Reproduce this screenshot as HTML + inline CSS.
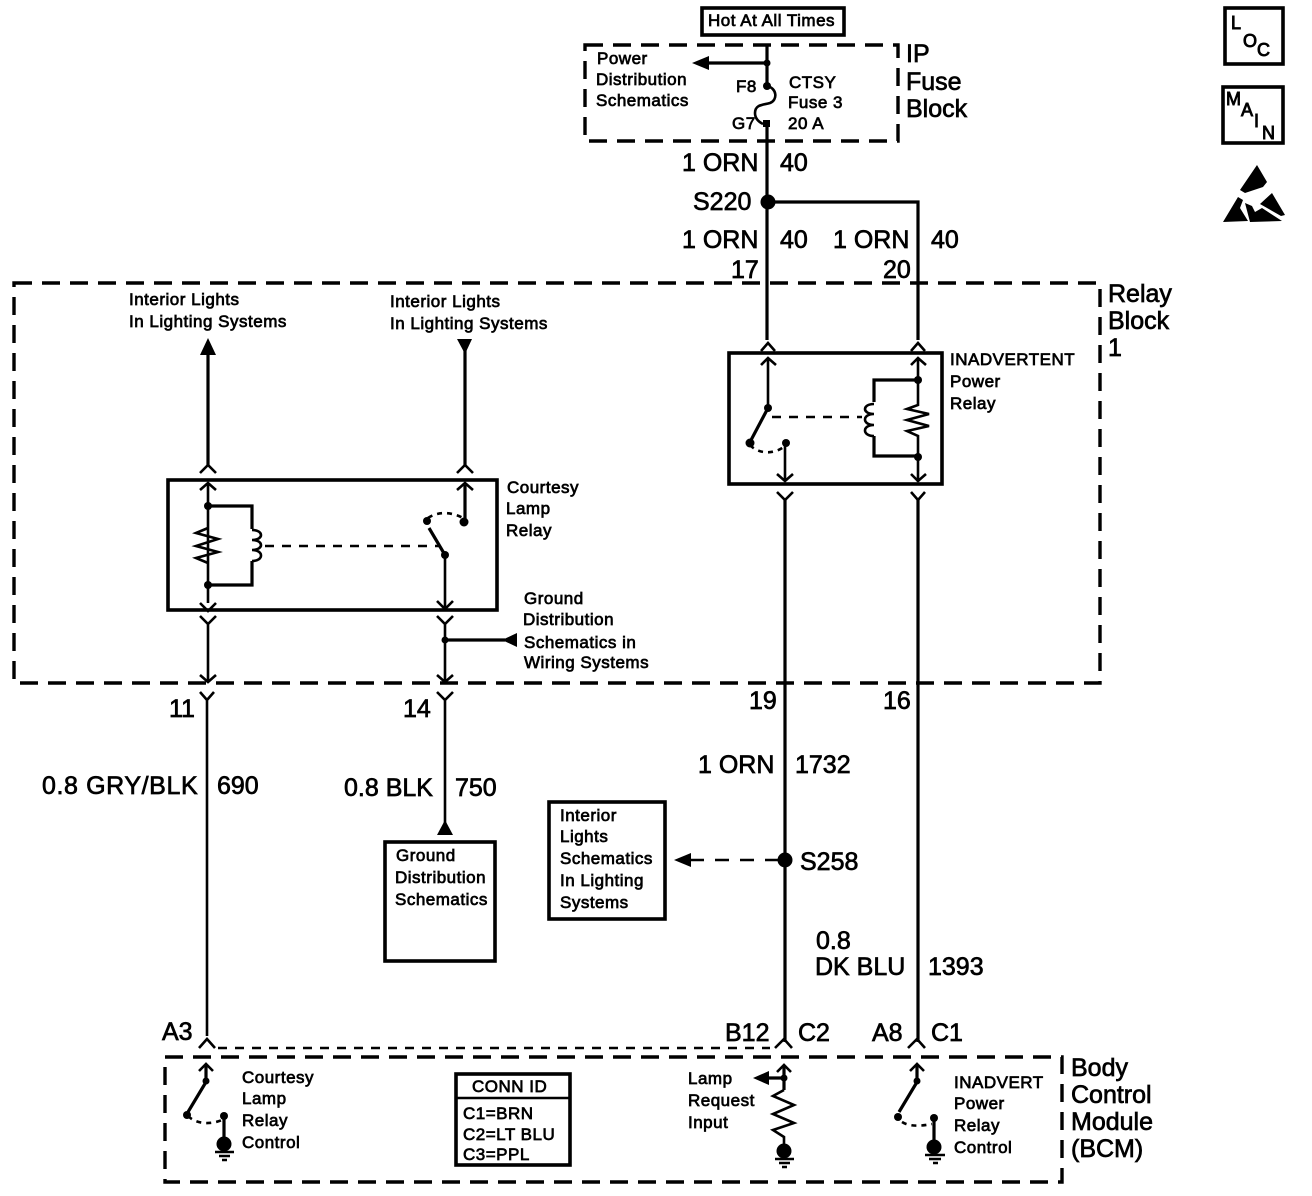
<!DOCTYPE html>
<html><head><meta charset="utf-8"><style>
html,body{margin:0;padding:0;background:#fff}
svg{display:block}
text{font-family:"Liberation Sans",sans-serif;fill:#000;stroke:#000;stroke-width:.7}
.s{font-size:17px;letter-spacing:.5px}
.m{font-size:25px}
.i{font-size:18px;letter-spacing:0;stroke-width:.9}
.w{fill:none;stroke:#000;stroke-width:2.6}
.t{fill:none;stroke:#000;stroke-width:3.2}
.b{fill:none;stroke:#000;stroke-width:3.6}
.d{fill:none;stroke:#000;stroke-width:3.4;stroke-dasharray:18 10}
.f{fill:#000;stroke:none}
</style></head><body>
<svg width="1312" height="1196" viewBox="0 0 1312 1196" xmlns="http://www.w3.org/2000/svg">
<rect class="b" x="702" y="8" width="142" height="27"/>
<text class="s" x="708" y="26">Hot At All Times</text>
<rect class="d" x="585" y="45" width="313" height="96"/>
<text class="s" x="597" y="64">Power</text>
<text class="s" x="596" y="85">Distribution</text>
<text class="s" x="596" y="106">Schematics</text>
<text class="s" x="736" y="92">F8</text>
<text class="s" x="732" y="129">G7</text>
<text class="s" x="789" y="88">CTSY</text>
<text class="s" x="788" y="108">Fuse 3</text>
<text class="s" x="788" y="129">20 A</text>
<text class="m" x="906" y="62">IP</text>
<text class="m" x="906" y="90">Fuse</text>
<text class="m" x="906" y="117">Block</text>
<path class="t" d="M767 46V86M767 63H705M767 124V340M767 202H918V340"/>
<path class="f" d="M692 63l17-7v14z"/>
<path class="w" d="M767 86c10 2 11 14 3 17c-6 2-15 1-15 10c0 6 4 9 8 11"/>
<circle class="f" cx="767" cy="63" r="3.5"/><circle class="f" cx="767" cy="86" r="4"/><rect class="f" x="763" y="120" width="7" height="7"/>
<circle class="f" cx="768" cy="202" r="7.5"/>
<text class="m" x="682" y="171">1 ORN</text><text class="m" x="780" y="171">40</text>
<text class="m" x="693" y="210">S220</text>
<text class="m" x="682" y="248">1 ORN</text><text class="m" x="780" y="248">40</text>
<text class="m" x="833" y="248">1 ORN</text><text class="m" x="931" y="248">40</text>
<text class="m" x="731" y="278">17</text><text class="m" x="883" y="278">20</text>

<rect class="d" x="14" y="283" width="1086" height="400"/>
<text class="m" x="1108" y="302">Relay</text><text class="m" x="1108" y="329">Block</text><text class="m" x="1108" y="356">1</text>
<text class="s" x="129" y="305">Interior Lights</text><text class="s" x="129" y="327">In Lighting Systems</text>
<text class="s" x="390" y="307">Interior Lights</text><text class="s" x="390" y="329">In Lighting Systems</text>
<path class="f" d="M208 338l8 17h-16zM465 354l-8-15h15z"/>
<path class="t" d="M208 350V466M465 345V466"/>
<path class="w" d="M200 473l8-8 8 8M457 473l8-8 8 8M761 351l7-8 7 8M911 351l7-8 7 8"/>

<!-- Courtesy relay -->
<rect class="b" x="168" y="480" width="329" height="130"/>
<path class="w" d="M200 490l8-7 8 7M457 490l8-7 8 7M208 484V603M200 603l8 8 8-8M445 555V608M437 601l8 8 8-8"/>
<path class="t" d="M465 485V521M208 506H252V529M208 585H252V561"/>
<path class="w" d="M208 528l-12 5 22 6-22 7 22 6-22 6 12 5"/>
<path class="w" d="M252 530c12 0 12 10 0 10c12 0 12 10 0 10c12 0 12 11 0 11"/>
<path class="w" stroke-dasharray="9 8" d="M265 546H440"/>
<path class="t" d="M445 555L429 528"/>
<path class="w" stroke-dasharray="5 5" d="M428 518C438 511 452 512 463 518"/>
<circle class="f" cx="208" cy="506" r="4"/><circle class="f" cx="208" cy="585" r="4"/>
<circle class="f" cx="427" cy="521" r="4"/><circle class="f" cx="464" cy="522" r="4.5"/><circle class="f" cx="445" cy="555" r="4"/>
<text class="s" x="507" y="493">Courtesy</text><text class="s" x="506" y="514">Lamp</text><text class="s" x="506" y="536">Relay</text>
<text class="s" x="524" y="604">Ground</text><text class="s" x="523" y="625">Distribution</text><text class="s" x="524" y="648">Schematics in</text><text class="s" x="524" y="668">Wiring Systems</text>
<path class="w" d="M200 616l8 8 8-8M437 616l8 8 8-8M208 624V682M445 624V682M200 675l8 7 8-7M437 675l8 7 8-7"/>
<path class="t" d="M445 640H505"/><path class="f" d="M502 640l15-7v14z"/><circle class="f" cx="445" cy="640" r="3.5"/>
<path class="w" d="M200 692l7 8 7-8M437 692l8 8 8-8M207 700V1036M445 700V828"/>
<path class="f" d="M445 820l8 15h-16z"/>

<!-- Inadvertent relay -->
<rect class="b" x="729" y="353" width="213" height="131"/>
<path class="w" d="M761 365l7-7 8 7M911 365l7-7 8 7M768 360V406M785 442V480M777 474l8 7 8-7M918 360V380M918 456V482M911 474l7 7 8-7"/>
<path class="t" d="M768 408L750 442M918 380H874V402M918 456H874V436"/>
<path class="w" d="M918 380V405l-11 4 22 5-22 6 22 6-22 5 11 5V456"/>
<path class="w" d="M874 404c-12 0-12 10 0 10c-12 0-12 11 0 11c-12 0-12 11 0 11"/>
<path class="w" stroke-dasharray="9 8" d="M772 417H862"/>
<path class="w" stroke-dasharray="5 5" d="M750 445C758 454 774 455 785 446"/>
<circle class="f" cx="768" cy="408" r="4"/><circle class="f" cx="750" cy="443" r="4.5"/><circle class="f" cx="786" cy="443" r="4"/><circle class="f" cx="918" cy="380" r="4"/><circle class="f" cx="918" cy="457" r="4"/>
<text class="s" x="950" y="365">INADVERTENT</text><text class="s" x="950" y="387">Power</text><text class="s" x="950" y="409">Relay</text>
<path class="w" d="M777 492l8 8 8-8M911 492l7 8 7-8"/>
<path class="t" d="M785 498V1042M918 498V1042"/>

<text class="m" x="169" y="717">11</text><text class="m" x="403" y="717">14</text><text class="m" x="749" y="709">19</text><text class="m" x="883" y="709">16</text>
<text class="m" x="42" y="794" letter-spacing=".6">0.8 GRY/BLK</text><text class="m" x="217" y="794">690</text>
<text class="m" x="344" y="796">0.8 BLK</text><text class="m" x="455" y="796">750</text>
<text class="m" x="698" y="773">1 ORN</text><text class="m" x="795" y="773">1732</text>
<rect class="b" x="385" y="842" width="110" height="119"/>
<text class="s" x="396" y="861">Ground</text><text class="s" x="395" y="883">Distribution</text><text class="s" x="395" y="905">Schematics</text>
<rect class="b" x="549" y="802" width="116" height="117"/>
<text class="s" x="560" y="821">Interior</text><text class="s" x="560" y="842">Lights</text><text class="s" x="560" y="864">Schematics</text><text class="s" x="560" y="886">In Lighting</text><text class="s" x="560" y="908">Systems</text>
<path class="w" stroke-dasharray="14 11" d="M690 860H780"/><path class="f" d="M674 860l17-7v14z"/>
<circle class="f" cx="785" cy="860" r="7.5"/>
<text class="m" x="800" y="870">S258</text>
<text class="m" x="816" y="949">0.8</text><text class="m" x="815" y="975">DK BLU</text><text class="m" x="928" y="975">1393</text>
<text class="m" x="162" y="1040">A3</text><text class="m" x="725" y="1041">B12</text><text class="m" x="798" y="1041">C2</text><text class="m" x="872" y="1041">A8</text><text class="m" x="931" y="1041">C1</text>

<!-- BCM -->
<path class="w" stroke-dasharray="9 8" d="M218 1048H770"/>
<rect class="d" x="165" y="1057" width="897" height="125"/>
<path class="w" d="M199 1048l8-9 8 9M775 1048l9-9 8 9M908 1048l9-9 8 9"/>
<text class="m" x="1071" y="1076">Body</text><text class="m" x="1071" y="1103">Control</text><text class="m" x="1071" y="1130">Module</text><text class="m" x="1071" y="1157">(BCM)</text>

<path class="w" d="M199 1071l7-7 7 7M777 1072l7-7 7 7M910 1071l7-7 7 7"/>
<path class="t" d="M206 1065V1082L188 1112M224 1116V1140M784 1066V1090M917 1065V1082L899 1112M934 1118V1140"/>
<path class="w" stroke-dasharray="5 5" d="M188 1116C196 1124 210 1125 222 1120M902 1122C910 1127 922 1126 932 1124"/>
<circle class="f" cx="206" cy="1081" r="3.5"/><circle class="f" cx="187" cy="1115" r="4"/><circle class="f" cx="224" cy="1116" r="4"/>
<circle class="f" cx="224" cy="1144" r="7.5"/><path class="w" d="M215 1152H234M219 1156H230M222 1160H227"/>
<circle class="f" cx="917" cy="1081" r="3.5"/><circle class="f" cx="898" cy="1117" r="4"/><circle class="f" cx="934" cy="1118" r="4"/>
<circle class="f" cx="934" cy="1147" r="7.5"/><path class="w" d="M925 1155H945M929 1159H941M933 1163H938"/>
<path class="f" d="M753 1078l16-7v14z"/><path class="t" d="M765 1078H784"/><circle class="f" cx="784" cy="1078" r="3.5"/>
<path class="w" d="M784 1090l-11 6 21 9-21 9 21 9-21 7 11 7V1145"/>
<circle class="f" cx="784" cy="1151" r="7.5"/><path class="w" d="M775 1159H794M779 1163H790M782 1167H787"/>
<text class="s" x="242" y="1083">Courtesy</text><text class="s" x="242" y="1104">Lamp</text><text class="s" x="242" y="1126">Relay</text><text class="s" x="242" y="1148">Control</text>
<text class="s" x="688" y="1084">Lamp</text><text class="s" x="688" y="1106">Request</text><text class="s" x="688" y="1128">Input</text>
<text class="s" x="954" y="1088">INADVERT</text><text class="s" x="954" y="1109">Power</text><text class="s" x="954" y="1131">Relay</text><text class="s" x="954" y="1153">Control</text>
<rect class="b" x="456" y="1074" width="114" height="91"/>
<path class="w" d="M456 1098H570"/>
<text class="s" x="472" y="1092">CONN ID</text>
<text class="s" x="463" y="1119">C1=BRN</text><text class="s" x="463" y="1140">C2=LT BLU</text><text class="s" x="463" y="1160">C3=PPL</text>

<!-- Side icons -->
<rect class="b" x="1225" y="8" width="58" height="56"/>
<text class="s i" x="1231" y="29">L</text><text class="s i" x="1243" y="47">O</text><text class="s i" x="1257" y="56">C</text>
<rect class="b" x="1223" y="87" width="60" height="56"/>
<text class="s i" x="1226" y="105">M</text><text class="s i" x="1241" y="116">A</text><text class="s i" x="1254" y="127">I</text><text class="s i" x="1262" y="139">N</text>
<path class="f" d="M1257 165L1267 182L1263 187L1245 193L1240 190ZM1238 197L1243 200L1240 208L1248 221L1223 222ZM1272 193L1285 215L1281 216L1260 204ZM1245 203L1252 206L1255 212L1262 208L1282 221L1250 222Z"/>
</svg>
</body></html>
